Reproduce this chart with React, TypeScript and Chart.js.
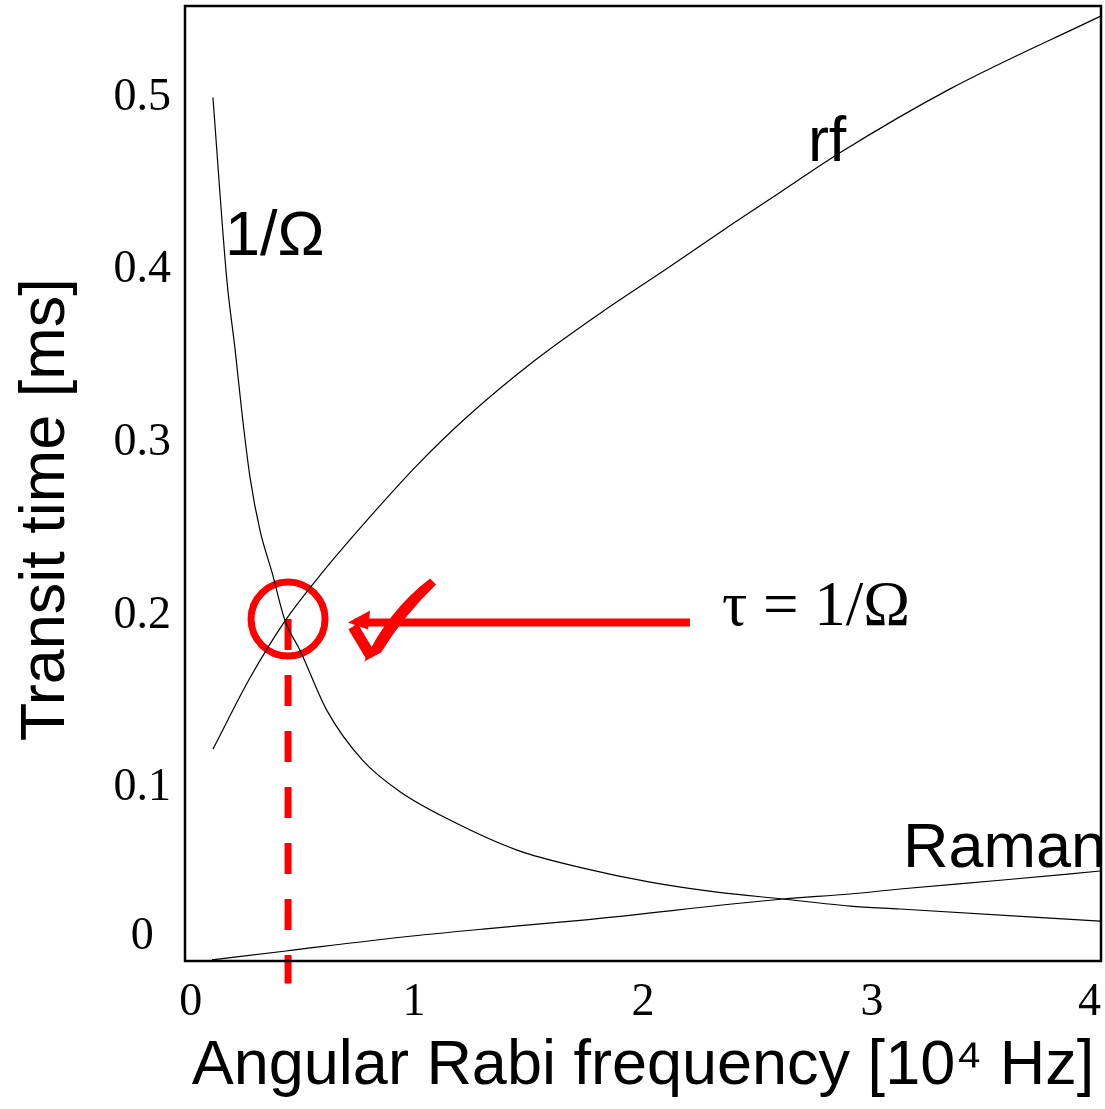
import React, { useEffect, useRef } from 'react';
import { Chart, registerables } from 'chart.js';

Chart.register(...registerables);

// Angular Rabi frequency [10^4 Hz] vs transit time [ms]
const invOmegaX = [0.122, 0.183, 0.218, 0.249, 0.284, 0.328, 0.38, 0.437, 0.502, 0.62, 0.777, 0.939, 1.157, 1.45, 1.738, 2.031, 2.323, 2.611, 2.904, 3.122, 3.996];
const invOmegaY = [0.5, 0.394, 0.355, 0.317, 0.28, 0.249, 0.225, 0.197, 0.18, 0.145, 0.116, 0.098, 0.0816, 0.0642, 0.0538, 0.0457, 0.0399, 0.0359, 0.0318, 0.0301, 0.0231];

const rfX = [0.122, 0.284, 0.437, 0.6, 0.8, 1.013, 1.231, 1.52, 1.812, 2.105, 2.393, 2.598, 2.86, 3.341, 3.996];
const rfY = [0.1227, 0.164, 0.197, 0.225, 0.256, 0.287, 0.315, 0.347, 0.375, 0.401, 0.427, 0.445, 0.468, 0.505, 0.547];

const ramanX = [0.118, 0.441, 0.952, 1.301, 1.738, 2.611, 2.904, 3.122, 3.572, 3.996];
const ramanY = [0.0006, 0.0058, 0.0139, 0.0185, 0.0237, 0.0359, 0.0388, 0.0417, 0.0469, 0.0521];

const yTicks = [0, 0.1, 0.2, 0.3, 0.4, 0.5];
const yTickLabels = ['0', '0.1', '0.2', '0.3', '0.4', '0.5'];
const xTicks = [0, 1, 2, 3, 4];
const xTickLabels = [' 0', '1', '2', '3', '4  '];

// crossing point tau = 1/Omega
const crossX = 0.45;
const crossY = 0.198;
const dropEndY = -0.013;
const arrowY = 0.196;
const arrowStartX = 0.74;
const arrowEndX = 2.205;
const arrowTipX = 0.712;

const curveLabels = ['1/Ω', 'rf', 'Raman'];
const curveLabelX = [0.175, 2.72, 3.135];
const curveLabelY = [0.4086, 0.4635, 0.0544];
const noteText = 'τ = 1/Ω';
const noteX = 2.345;
const noteY = 0.1944;

const zip = (xs: number[], ys: number[]) => xs.map((x, i) => ({ x, y: ys[i] }));

const RED = '#ff0000';

const annotationPlugin = {
  id: 'annotations',
  afterDatasetsDraw(chart: any) {
    const { ctx, chartArea, scales } = chart;
    const xs = scales.x;
    const ys = scales.y;
    ctx.save();
    // plot frame
    ctx.strokeStyle = '#000';
    ctx.lineWidth = 2.5;
    ctx.strokeRect(chartArea.left, chartArea.top, chartArea.right - chartArea.left, chartArea.bottom - chartArea.top);

    // curve labels
    ctx.fillStyle = '#000';
    ctx.textAlign = 'left';
    ctx.textBaseline = 'alphabetic';
    ctx.font = '63px "Liberation Sans", Arial, sans-serif';
    curveLabels.forEach((t, i) => {
      ctx.fillText(t, xs.getPixelForValue(curveLabelX[i]), ys.getPixelForValue(curveLabelY[i]));
    });
    ctx.font = '63px "Liberation Serif", "Times New Roman", serif';
    ctx.fillText(noteText, xs.getPixelForValue(noteX), ys.getPixelForValue(noteY));

    // arrow head + check mark
    const tx = xs.getPixelForValue(arrowTipX);
    const ty = ys.getPixelForValue(arrowY);
    ctx.fillStyle = RED;
    ctx.strokeStyle = RED;
    ctx.beginPath();
    ctx.moveTo(tx, ty);
    ctx.lineTo(tx + 22, ty - 12);
    ctx.lineTo(tx + 20, ty + 7);
    ctx.closePath();
    ctx.fill();
    ctx.lineWidth = 11;
    ctx.lineCap = 'butt';
    ctx.beginPath();
    ctx.moveTo(tx + 5, ty + 4);
    ctx.lineTo(tx + 23, ty + 34);
    ctx.stroke();
    ctx.beginPath();
    ctx.moveTo(tx + 16, ty + 39);
    ctx.quadraticCurveTo(tx + 40, ty - 12, tx + 82, ty - 44);
    ctx.lineTo(tx + 88, ty - 38);
    ctx.quadraticCurveTo(tx + 55, ty - 6, tx + 33, ty + 30);
    ctx.closePath();
    ctx.fill();
    ctx.restore();
  },
};

const zeroPadding = (s: any) => {
  s.paddingTop = 0;
  s.paddingBottom = 0;
  s.paddingLeft = 0;
  s.paddingRight = 0;
};

export default function App() {
  const canvasRef = useRef<HTMLCanvasElement | null>(null);

  useEffect(() => {
    const canvas = canvasRef.current;
    if (!canvas) return;
    const line = (label: string, data: any[]) => ({
      label,
      data,
      showLine: true,
      borderColor: '#000',
      borderWidth: 1.2,
      pointRadius: 0,
      cubicInterpolationMode: 'monotone' as const,
    });
    const chart = new Chart(canvas, {
      type: 'scatter',
      data: {
        datasets: [
          line('1/Ω', zip(invOmegaX, invOmegaY)),
          line('rf', zip(rfX, rfY)),
          line('Raman', zip(ramanX, ramanY)),
          {
            label: 'crossing',
            data: [{ x: crossX, y: crossY }],
            showLine: false,
            pointRadius: 37,
            pointBorderWidth: 7,
            pointBorderColor: RED,
            pointBackgroundColor: 'rgba(0,0,0,0)',
            clip: false,
          } as any,
          {
            label: 'drop',
            data: [{ x: crossX, y: crossY }, { x: crossX, y: dropEndY }],
            showLine: true,
            borderColor: RED,
            borderWidth: 7,
            borderDash: [31, 25],
            borderCapStyle: 'butt',
            pointRadius: 0,
            clip: false,
          } as any,
          {
            label: 'arrow',
            data: [{ x: arrowStartX, y: arrowY }, { x: arrowEndX, y: arrowY }],
            showLine: true,
            borderColor: RED,
            borderWidth: 8,
            pointRadius: 0,
          } as any,
        ],
      },
      options: {
        responsive: false,
        animation: false,
        devicePixelRatio: 1,
        layout: { autoPadding: false, padding: { top: 6, right: 4, left: 0, bottom: 0 } },
        plugins: { legend: { display: false }, tooltip: { enabled: false } },
        events: [],
        scales: {
          x: {
            type: 'linear',
            min: 0,
            max: 4,
            afterBuildTicks: (s: any) => {
              s.ticks = xTicks.map((v) => ({ value: v }));
            },
            afterFit: (s: any) => {
              s.height = 148;
              zeroPadding(s);
            },
            grid: { display: false, drawTicks: false },
            border: { display: false },
            ticks: {
              color: '#000',
              padding: 14,
              maxRotation: 0,
              font: { family: '"Liberation Serif", "Times New Roman", serif', size: 46 },
              callback: (v: any, i: number) => xTickLabels[i],
            },
            title: {
              display: true,
              text: 'Angular Rabi frequency [10⁴ Hz]',
              color: '#000',
              font: { family: '"Liberation Sans", Arial, sans-serif', size: 63 },
              padding: { top: 0, bottom: 5 },
            },
          },
          y: {
            type: 'linear',
            min: 0,
            max: 0.553,
            afterBuildTicks: (s: any) => {
              s.ticks = yTicks.map((v) => ({ value: v }));
            },
            afterFit: (s: any) => {
              s.width = 185;
              zeroPadding(s);
            },
            grid: { display: false, drawTicks: false },
            border: { display: false },
            ticks: {
              color: '#000',
              padding: 14,
              crossAlign: 'center',
              font: { family: '"Liberation Serif", "Times New Roman", serif', size: 46, lineHeight: 1.05 },
              callback: (v: any, i: number) => (i === 0 ? [yTickLabels[0], ''] : yTickLabels[i]),
            },
            title: {
              display: true,
              text: 'Transit time [ms]   ',
              color: '#000',
              font: { family: '"Liberation Sans", Arial, sans-serif', size: 63 },
              padding: { top: 9, bottom: 0 },
            },
          },
        },
      },
      plugins: [annotationPlugin],
    } as any);
    return () => chart.destroy();
  }, []);

  return (
    <div style={{ position: 'absolute', left: 0, top: 0, width: 1105, height: 1109, background: '#fff' }}>
      <canvas ref={canvasRef} width={1105} height={1109} style={{ width: 1105, height: 1109, display: 'block' }} />
    </div>
  );
}
